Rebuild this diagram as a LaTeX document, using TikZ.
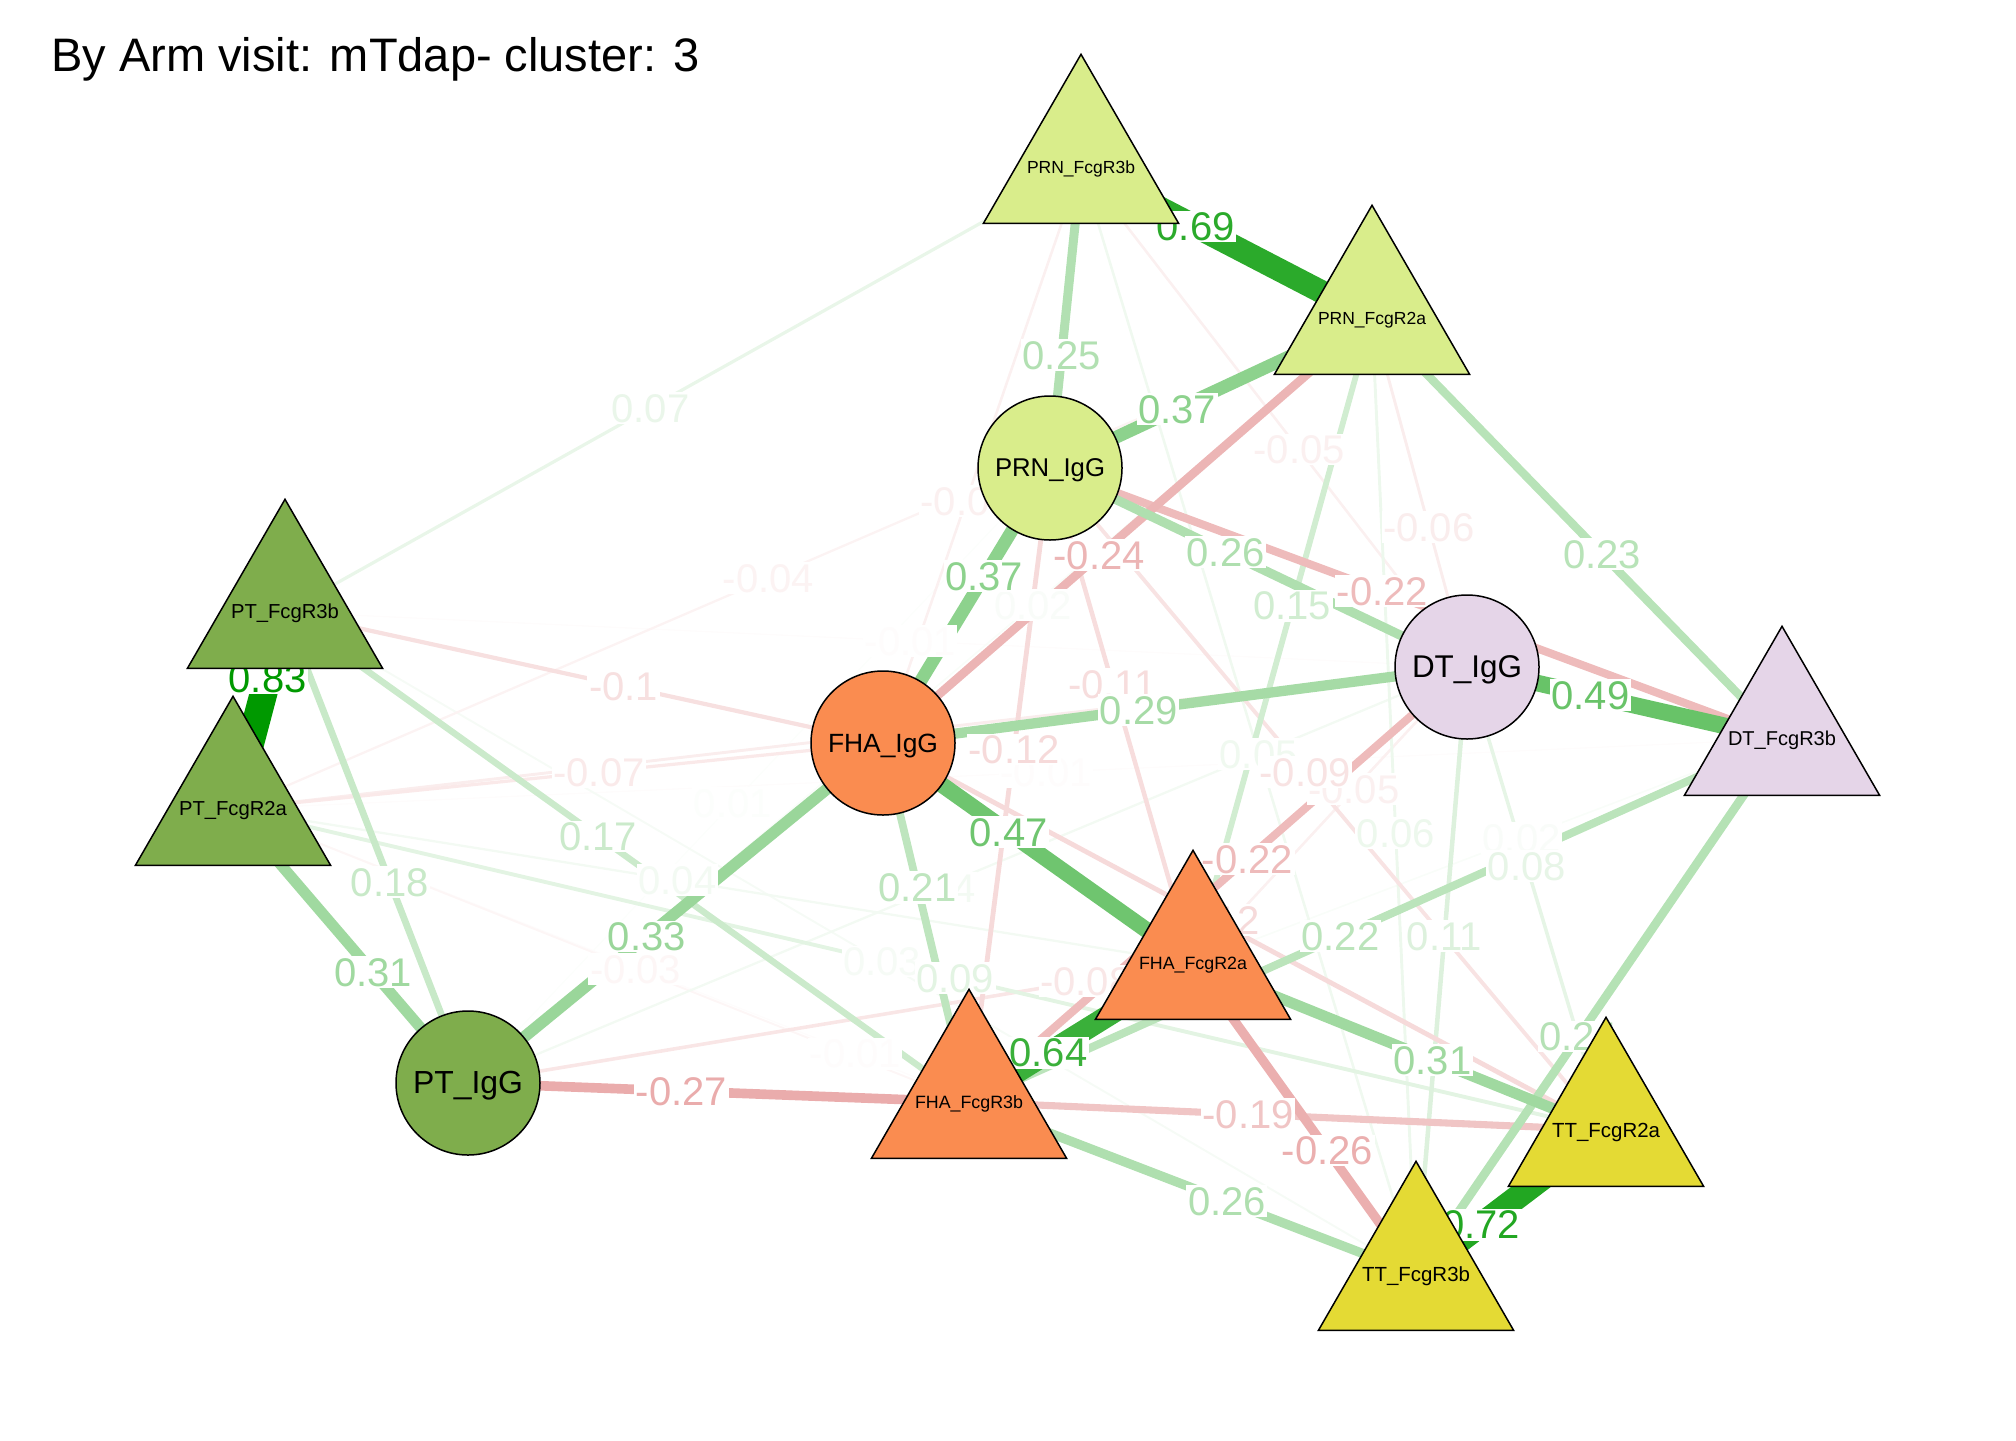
\documentclass[tikz,border=0pt]{standalone}
\usepackage{fontspec}
\setmainfont{Liberation Sans}
\usetikzlibrary{shapes.geometric}
\pgfdeclarelayer{edgelayer}
\pgfdeclarelayer{labellayer}
\pgfsetlayers{edgelayer,labellayer,main}
\definecolor{posc}{RGB}{0,153,0}
\definecolor{negc}{RGB}{191,0,0}
\definecolor{prn}{HTML}{D9ED8B}
\definecolor{ptc}{HTML}{7FAD4C}
\definecolor{fha}{HTML}{FA8C50}
\definecolor{dtc}{HTML}{E5D5E8}
\definecolor{ttc}{HTML}{E4DA34}
\newcommand\nlab[2]{\resizebox{#1}{!}{\smash{#2}\vphantom{T}}}
% from, to, |weight|, colour, label, pos
\newcommand\gedge[6]{%
  \pgfmathsetmacro\epct{min(100,100*#3/0.83)}%
  \pgfmathsetmacro\elw{0.5+16*#3}%
  \begin{pgfonlayer}{edgelayer}
    \draw[line width=\elw pt, draw=#4!\epct!white, line cap=round] (#1.center) -- (#2.center);
  \end{pgfonlayer}
  \begin{pgfonlayer}{labellayer}
    \path (#1.center) -- node[elab, pos=#6, text=#4!\epct!white]{#5} (#2.center);
  \end{pgfonlayer}}
\begin{document}
\begin{tikzpicture}[x=0.5pt,y=-0.5pt,
  circ/.style={circle, draw=black, line width=0.75pt, minimum size=72pt, inner sep=0pt},
  tri/.style={regular polygon, regular polygon sides=3, draw=black, line width=0.75pt, minimum size=112.7pt, inner sep=0pt},
  nlabel/.style={inner sep=0pt, text=black},
  elab/.style={font=\fontsize{20}{20}\selectfont, fill=white, inner sep=0.8pt, text height=14.3pt, text depth=0pt}]
\useasboundingbox (0,0) rectangle (2016,1440);
\node[anchor=base west, inner sep=0pt, font=\fontsize{23.5}{28}\selectfont] (title) at (51,71) {By Arm visit: mTdap- cluster: 3};

% nodes
\node[tri, fill=prn, label={[nlabel]center:{\nlab{54pt}{PRN\_FcgR3b}}}] (A) at (1081,167) {};
\node[tri, fill=prn, label={[nlabel]center:{\nlab{54pt}{PRN\_FcgR2a}}}] (B) at (1372,318) {};
\node[circ, fill=prn] (C) at (1050,468) {\nlab{55pt}{PRN\_IgG}};
\node[tri, fill=ptc, label={[nlabel]center:{\nlab{54pt}{PT\_FcgR3b}}}] (D) at (285,612) {};
\node[tri, fill=ptc, label={[nlabel]center:{\nlab{54pt}{PT\_FcgR2a}}}] (E) at (233,809) {};
\node[circ, fill=fha] (F) at (883,743) {\nlab{55pt}{FHA\_IgG}};
\node[circ, fill=dtc] (G) at (1467,667) {\nlab{55pt}{DT\_IgG}};
\node[tri, fill=dtc, label={[nlabel]center:{\nlab{54pt}{DT\_FcgR3b}}}] (H) at (1782,739) {};
\node[tri, fill=fha, label={[nlabel]center:{\nlab{54pt}{FHA\_FcgR2a}}}] (I) at (1193,963) {};
\node[circ, fill=ptc] (J) at (468,1083) {\nlab{55pt}{PT\_IgG}};
\node[tri, fill=fha, label={[nlabel]center:{\nlab{54pt}{FHA\_FcgR3b}}}] (K) at (969,1102) {};
\node[tri, fill=ttc, label={[nlabel]center:{\nlab{54pt}{TT\_FcgR2a}}}] (L) at (1606,1130) {};
\node[tri, fill=ttc, label={[nlabel]center:{\nlab{54pt}{TT\_FcgR3b}}}] (M) at (1416,1274) {};

% edges, weakest first
\gedge{J}{C}{0.01}{posc}{0.01}{0.455}
\gedge{D}{G}{0.01}{negc}{-0.01}{0.529}
\gedge{E}{H}{0.01}{negc}{-0.01}{0.525}
\gedge{E}{M}{0.01}{negc}{-0.01}{0.526}
\gedge{H}{I}{0.02}{posc}{0.02}{0.442}
\gedge{B}{J}{0.02}{posc}{0.02}{0.375}
\gedge{E}{K}{0.03}{negc}{-0.03}{0.547}
\gedge{D}{M}{0.03}{posc}{0.03}{0.528}
\gedge{E}{B}{0.04}{negc}{-0.04}{0.470}
\gedge{E}{I}{0.04}{posc}{0.04}{0.463}
\gedge{G}{J}{0.04}{posc}{0.04}{0.531}
\gedge{A}{G}{0.05}{negc}{-0.05}{0.565}
\gedge{G}{I}{0.05}{negc}{-0.05}{0.413}
\gedge{A}{M}{0.05}{posc}{0.05}{0.530}
\gedge{A}{F}{0.05}{negc}{-0.05}{0.580}
\gedge{B}{G}{0.06}{negc}{-0.06}{0.598}
\gedge{B}{M}{0.06}{posc}{0.06}{0.539}
\gedge{E}{G}{0.06}{negc}{-0.06}{0.52}
\gedge{D}{A}{0.07}{posc}{0.07}{0.459}
\gedge{E}{F}{0.07}{negc}{-0.07}{0.563}
\gedge{G}{L}{0.08}{posc}{0.08}{0.430}
\gedge{J}{I}{0.08}{negc}{-0.08}{0.852}
\gedge{C}{L}{0.09}{negc}{-0.09}{0.459}
\gedge{E}{L}{0.09}{posc}{0.09}{0.526}
\gedge{D}{F}{0.1}{negc}{-0.1}{0.566}
\gedge{C}{I}{0.11}{negc}{-0.11}{0.436}
\gedge{G}{M}{0.11}{posc}{0.11}{0.443}
\gedge{C}{K}{0.12}{negc}{-0.12}{0.444}
\gedge{F}{L}{0.12}{negc}{-0.12}{0.458}
\gedge{B}{I}{0.15}{posc}{0.15}{0.446}
\gedge{D}{K}{0.17}{posc}{0.17}{0.458}
\gedge{D}{J}{0.18}{posc}{0.18}{0.573}
\gedge{K}{L}{0.19}{negc}{-0.19}{0.438}
\gedge{F}{K}{0.21}{posc}{0.21}{0.401}
\gedge{C}{H}{0.22}{negc}{-0.22}{0.454}
\gedge{G}{K}{0.22}{negc}{-0.22}{0.441}
\gedge{H}{K}{0.22}{posc}{0.22}{0.543}
\gedge{B}{H}{0.23}{posc}{0.23}{0.561}
\gedge{B}{F}{0.24}{negc}{-0.24}{0.558}
\gedge{H}{M}{0.24}{posc}{0.24}{0.556}
\gedge{A}{C}{0.25}{posc}{0.25}{0.624}
\gedge{C}{G}{0.26}{posc}{0.26}{0.421}
\gedge{K}{M}{0.26}{posc}{0.26}{0.577}
\gedge{I}{M}{0.26}{negc}{-0.26}{0.603}
\gedge{J}{K}{0.27}{negc}{-0.27}{0.426}
\gedge{F}{G}{0.29}{posc}{0.29}{0.438}
\gedge{E}{J}{0.31}{posc}{0.31}{0.596}
\gedge{I}{L}{0.31}{posc}{0.31}{0.580}
\gedge{F}{J}{0.33}{posc}{0.33}{0.569}
\gedge{C}{B}{0.37}{posc}{0.37}{0.395}
\gedge{F}{C}{0.37}{posc}{0.37}{0.606}
\gedge{F}{I}{0.47}{posc}{0.47}{0.405}
\gedge{G}{H}{0.49}{posc}{0.49}{0.392}
\gedge{K}{I}{0.64}{posc}{0.64}{0.355}
\gedge{A}{B}{0.69}{posc}{0.69}{0.394}
\gedge{L}{M}{0.72}{posc}{0.72}{0.657}
\gedge{D}{E}{0.83}{posc}{0.83}{0.334}
\end{tikzpicture}
\end{document}
